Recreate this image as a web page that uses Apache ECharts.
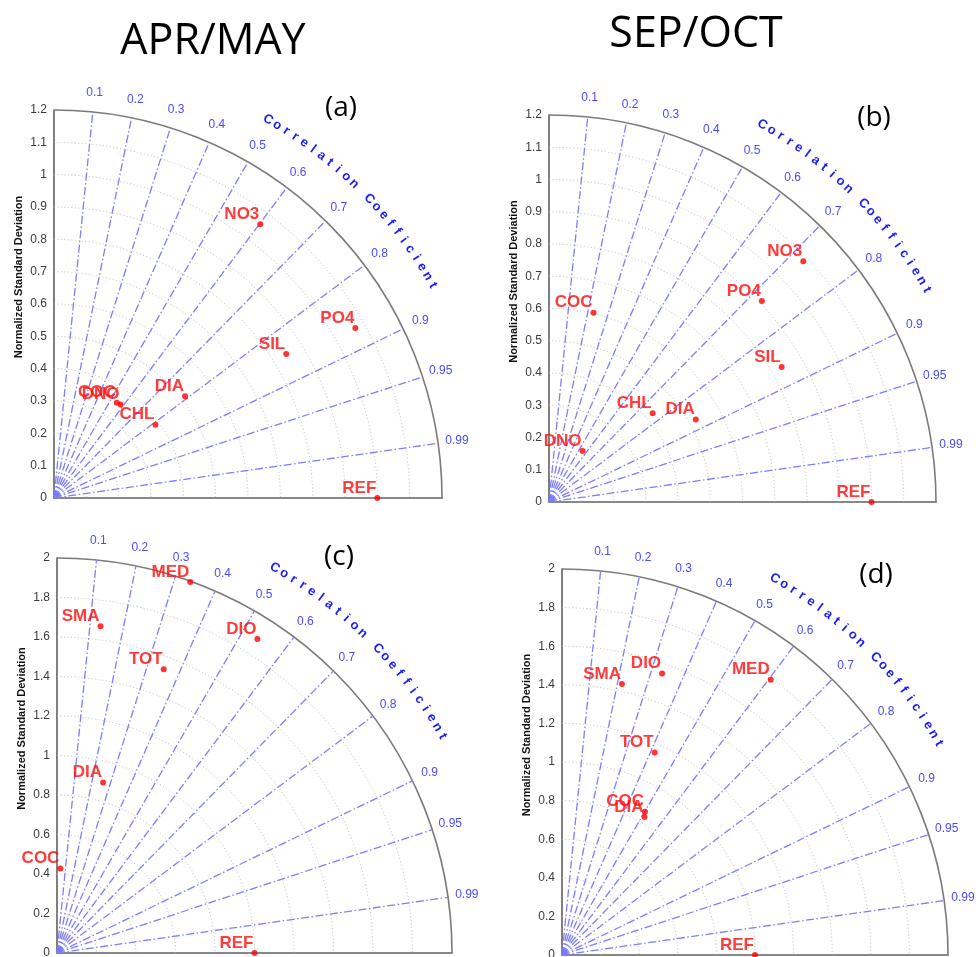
<!DOCTYPE html>
<html>
<head>
<meta charset="utf-8">
<script src="https://cdn.jsdelivr.net/npm/echarts@6/dist/echarts.min.js"></script>
<style>
  html, body { margin: 0; padding: 0; background: #fff; }
  #chart { width: 976px; height: 957px; }
</style>
</head>
<body>
<div id="chart"></div>
<script>
// (a) APR/MAY, nutrients
const namesA = ['NO3', 'PO4', 'SIL', 'DIA', 'CHL', 'COC', 'DNO', 'REF'];
const stdA = [1.06, 1.07, 0.845, 0.513, 0.387, 0.353, 0.355, 1.0];
const corrA = [0.602, 0.871, 0.85, 0.79, 0.811, 0.55, 0.58, 1.0];

// (b) SEP/OCT, nutrients
const namesB = ['NO3', 'PO4', 'SIL', 'COC', 'CHL', 'DIA', 'DNO', 'REF'];
const stdB = [1.086, 0.908, 0.834, 0.603, 0.423, 0.522, 0.189, 1.0];
const corrB = [0.726, 0.727, 0.865, 0.229, 0.76, 0.872, 0.55, 1.0];

// (c) APR/MAY, groups
const namesC = ['MED', 'SMA', 'DIO', 'TOT', 'DIA', 'COC', 'REF'];
const stdC = [1.996, 1.669, 1.886, 1.535, 0.894, 0.428, 1.0];
const corrC = [0.338, 0.132, 0.538, 0.352, 0.261, 0.04, 1.0];

// (d) SEP/OCT, groups
const namesD = ['SMA', 'DIO', 'MED', 'TOT', 'COC', 'DIA', 'REF'];
const stdD = [1.438, 1.548, 1.79, 1.154, 0.858, 0.833, 1.0];
const corrD = [0.216, 0.335, 0.604, 0.416, 0.501, 0.513, 1.0];

const corrTicks = [0.1, 0.2, 0.3, 0.4, 0.5, 0.6, 0.7, 0.8, 0.9, 0.95, 0.99];
const stdArcsSmall = [0.1, 0.2, 0.3, 0.4, 0.5, 0.6, 0.7, 0.8, 0.9, 1.0, 1.1, 1.2];
const stdArcsLarge = [0.2, 0.4, 0.6, 0.8, 1.0, 1.2, 1.4, 1.6, 1.8, 2.0];
const corrTitle = 'Correlation Coefficient';
const yName = 'Normalized Standard Deviation';

const panels = [
  { names: namesA, std: stdA, corr: corrA, max: 1.2, step: 0.1, arcs: stdArcsSmall,
    grid: { left: 54, top: 110, width: 388, height: 388 } },
  { names: namesB, std: stdB, corr: corrB, max: 1.2, step: 0.1, arcs: stdArcsSmall,
    grid: { left: 549, top: 115, width: 387, height: 387 } },
  { names: namesC, std: stdC, corr: corrC, max: 2, step: 0.2, arcs: stdArcsLarge,
    grid: { left: 57, top: 558, width: 395, height: 395 } },
  { names: namesD, std: stdD, corr: corrD, max: 2, step: 0.2, arcs: stdArcsLarge,
    grid: { left: 562, top: 569, width: 386, height: 386 } },
];

const labelFont = 'Liberation Sans, Arial, sans-serif';
const titleFont = 'Open Sans, sans-serif';

const grids = [], xAxes = [], yAxes = [], series = [];

panels.forEach((p, i) => {
  grids.push(Object.assign({ outerBoundsMode: 'none', containLabel: false }, p.grid));
  xAxes.push({
    gridIndex: i, type: 'value', min: 0, max: p.max,
    axisLine: { show: true, lineStyle: { color: '#888', width: 2 } },
    axisTick: { show: false }, axisLabel: { show: false }, splitLine: { show: false },
  });
  yAxes.push({
    gridIndex: i, type: 'value', min: 0, max: p.max, interval: p.step,
    name: yName, nameLocation: 'middle', nameGap: 30,
    nameTextStyle: { fontSize: 11, fontWeight: 'bold', color: '#111', fontFamily: labelFont, padding: [0, 0, 0, 54] },
    axisLine: { show: true, lineStyle: { color: '#555', width: 1.5 } },
    axisTick: { show: false },
    axisLabel: { fontSize: 12, color: '#3a3a3a', margin: 7, fontFamily: labelFont },
    splitLine: { show: false },
  });

  // dotted std arcs + outer solid arc
  series.push({
    type: 'custom', coordinateSystem: 'cartesian2d', xAxisIndex: i, yAxisIndex: i,
    silent: true, z: 1,
    data: p.arcs.map((r) => [r, 0]),
    renderItem: (params, api) => {
      const o = api.coord([0, 0]);
      const r = api.size([api.value(0), 0])[0];
      const outer = api.value(0) >= p.max - 1e-9;
      return {
        type: 'arc',
        shape: { cx: o[0], cy: o[1], r: r, startAngle: -Math.PI / 2, endAngle: 0, clockwise: true },
        style: outer
          ? { fill: null, stroke: '#7a7a7a', lineWidth: 1.6 }
          : { fill: null, stroke: '#b8b8b8', lineWidth: 1, lineDash: [1, 2.5] },
      };
    },
  });

  // correlation rays + labels
  series.push({
    type: 'custom', coordinateSystem: 'cartesian2d', xAxisIndex: i, yAxisIndex: i,
    silent: true, z: 2,
    data: corrTicks.map((c) => [c, 0]),
    renderItem: (params, api) => {
      const c = api.value(0);
      const s = Math.sqrt(1 - c * c);
      const o = api.coord([0, 0]);
      const R = api.size([p.max, 0])[0];
      const children = [
        {
          type: 'line',
          shape: { x1: o[0], y1: o[1], x2: o[0] + R * c, y2: o[1] - R * s },
          style: { stroke: '#7d7dff', lineWidth: 1.3, lineDash: [8, 2.5, 1.5, 2.5] },
        },
        {
          type: 'text',
          x: o[0] + (R + 19) * c, y: o[1] - (R + 19) * s,
          style: { text: String(c), fill: '#4a4aff', fontSize: 12, fontFamily: labelFont, align: 'center', verticalAlign: 'middle' },
        },
      ];
      if (params.dataIndex === 0) {
        children.push({
          type: 'rect',
          shape: { x: o[0], y: o[1] - 5, width: 5, height: 5 },
          style: { fill: '#2323c8' },
        });
      }
      return { type: 'group', children: children };
    },
  });

  // curved "Correlation Coefficient"
  const chars = corrTitle.split('');
  series.push({
    type: 'custom', coordinateSystem: 'cartesian2d', xAxisIndex: i, yAxisIndex: i,
    silent: true, z: 2,
    data: chars.map((ch, k) => [k, 0]),
    renderItem: (params, api) => {
      const k = params.dataIndex;
      const a0 = 60.5, a1 = 29.3;
      const deg = a0 + (a1 - a0) * k / (chars.length - 1);
      const th = deg * Math.PI / 180;
      const o = api.coord([0, 0]);
      const r = api.size([p.max, 0])[0] * 1.12;
      return {
        type: 'text',
        x: o[0] + r * Math.cos(th), y: o[1] - r * Math.sin(th),
        rotation: th - Math.PI / 2,
        style: { text: chars[k], fill: '#1c1cf5', fontSize: 13, fontWeight: 'bold', fontFamily: labelFont, align: 'center', verticalAlign: 'middle' },
      };
    },
  });

  // model points
  series.push({
    type: 'scatter', xAxisIndex: i, yAxisIndex: i, z: 5,
    symbol: 'circle', symbolSize: 6, silent: true,
    itemStyle: { color: '#ff0000' },
    label: {
      show: true, formatter: '{b}', position: 'left', distance: 0, offset: [2, -10],
      color: '#ff0a0a', fontSize: 17, fontWeight: 'bold', fontFamily: labelFont,
    },
    data: p.std.map((s, k) => ({
      name: p.names[k],
      value: [s * p.corr[k], s * Math.sqrt(1 - p.corr[k] * p.corr[k])],
    })),
  });
});

const titleStyle = (size) => ({ fontFamily: titleFont, fontSize: size, fontWeight: 'normal', color: '#000', lineHeight: size });

const chart = echarts.init(document.getElementById('chart'));
chart.setOption({
  animation: false,
  backgroundColor: '#fff',
  title: [
    { text: 'APR/MAY', left: 213, top: 20, textAlign: 'center', padding: 0, textStyle: titleStyle(43) },
    { text: 'SEP/OCT', left: 696, top: 13, textAlign: 'center', padding: 0, textStyle: titleStyle(43) },
    { text: '(a)', left: 341, top: 94, textAlign: 'center', padding: 0, textStyle: titleStyle(28) },
    { text: '(b)', left: 874, top: 104, textAlign: 'center', padding: 0, textStyle: titleStyle(28) },
    { text: '(c)', left: 339, top: 543, textAlign: 'center', padding: 0, textStyle: titleStyle(28) },
    { text: '(d)', left: 876, top: 561, textAlign: 'center', padding: 0, textStyle: titleStyle(28) },
  ],
  grid: grids,
  xAxis: xAxes,
  yAxis: yAxes,
  series: series,
});
</script>
</body>
</html>
